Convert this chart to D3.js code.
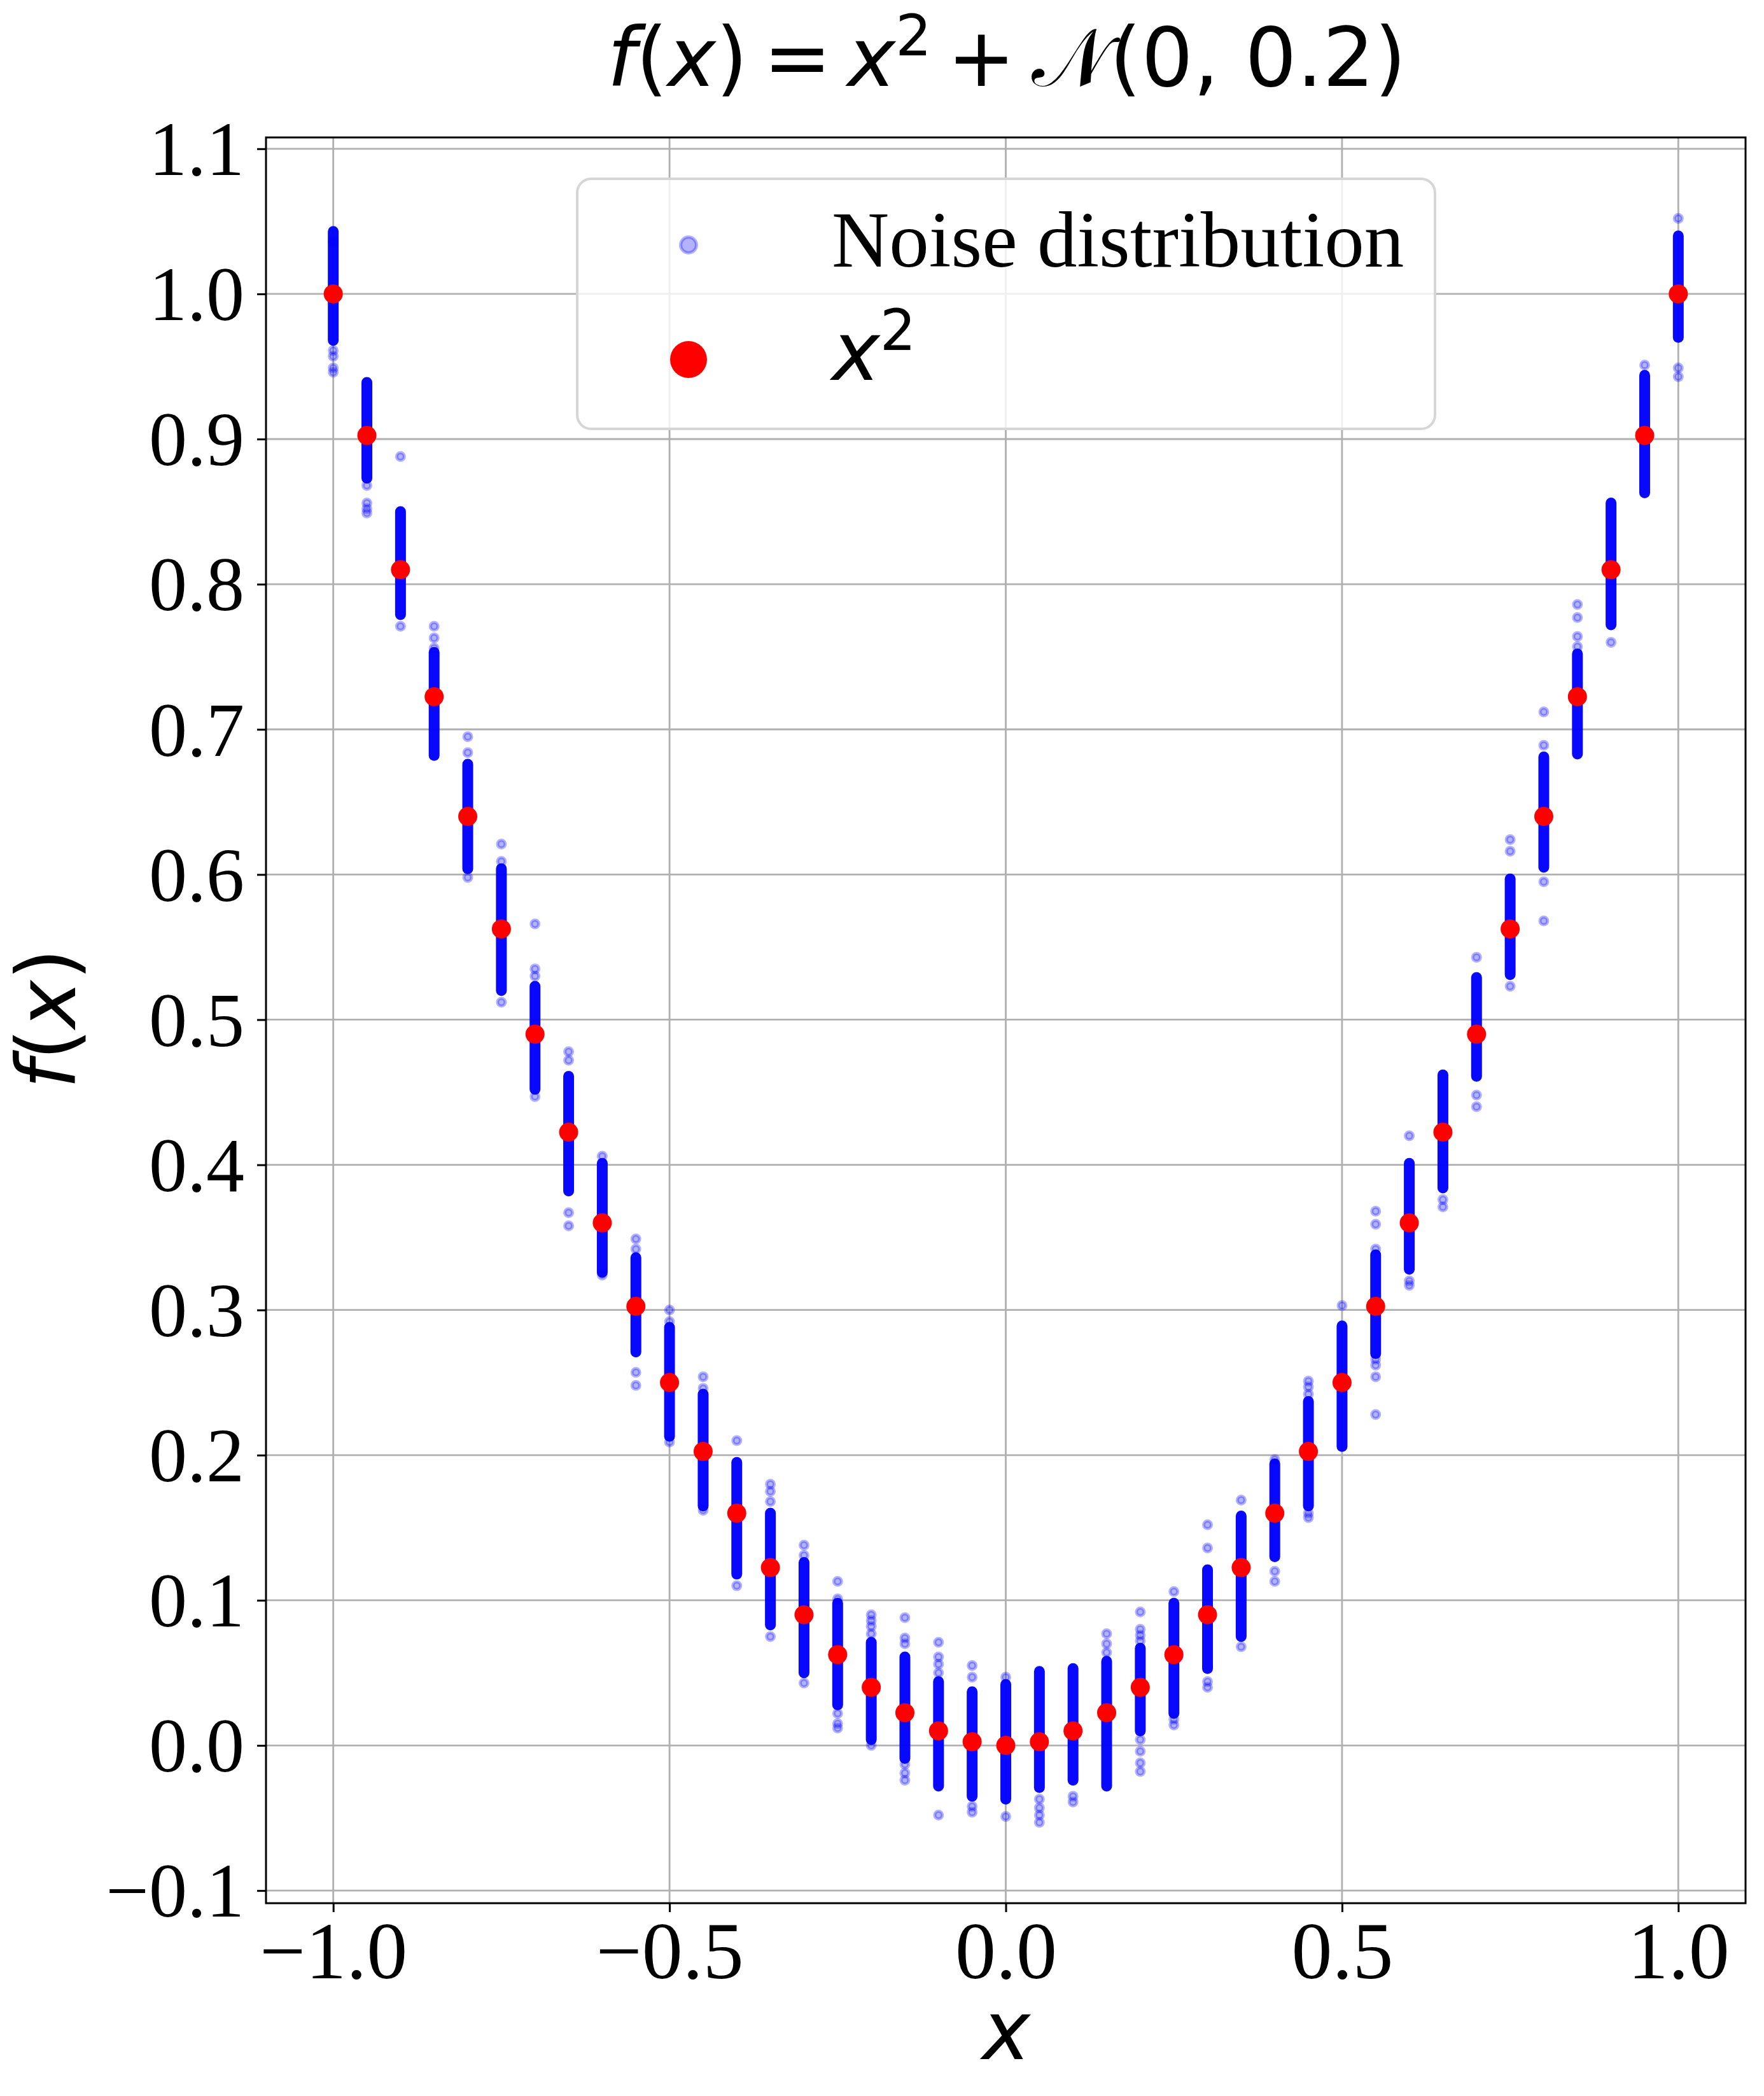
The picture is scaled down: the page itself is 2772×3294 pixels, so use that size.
<!DOCTYPE html>
<html>
<head>
<meta charset="utf-8">
<script src="https://cdn.jsdelivr.net/npm/d3@7"></script>
<style>
  body { margin: 0; background: #fff; }
</style>
</head>
<body>
<div class="chart"></div>
<script>
// x positions of the samples and the noiseless x^2 values
const xValues = [-1.0, -0.95, -0.9, -0.85, -0.8, -0.75, -0.7, -0.65, -0.6, -0.55, -0.5, -0.45, -0.4, -0.35, -0.3, -0.25, -0.2, -0.15, -0.1, -0.05, 0.0,
  0.05, 0.1, 0.15, 0.2, 0.25, 0.3, 0.35, 0.4, 0.45, 0.5, 0.55, 0.6, 0.65, 0.7, 0.75, 0.8, 0.85, 0.9, 0.95, 1.0];
const squareValues = [1.0, 0.9025, 0.81, 0.7225, 0.64, 0.5625, 0.49, 0.4225, 0.36, 0.3025, 0.25, 0.2025, 0.16, 0.1225, 0.09, 0.0625, 0.04, 0.0225, 0.01, 0.0025, 0.0,
  0.0025, 0.01, 0.0225, 0.04, 0.0625, 0.09, 0.1225, 0.16, 0.2025, 0.25, 0.3025, 0.36, 0.4225, 0.49, 0.5625, 0.64, 0.7225, 0.81, 0.9025, 1.0];

// dense part of each noise column (top and bottom of the solid blue run)
const noiseBandTop = [1.043, 0.939, 0.850, 0.753, 0.676, 0.604, 0.523, 0.461, 0.401, 0.336, 0.288, 0.242, 0.195, 0.160, 0.126, 0.098, 0.071, 0.061, 0.044, 0.037, 0.042,
  0.051, 0.053, 0.058, 0.067, 0.098, 0.121, 0.158, 0.194, 0.237, 0.289, 0.338, 0.401, 0.462, 0.529, 0.597, 0.681, 0.752, 0.856, 0.944, 1.040];
const noiseBandBottom = [0.968, 0.873, 0.779, 0.682, 0.604, 0.520, 0.452, 0.382, 0.326, 0.271, 0.213, 0.165, 0.118, 0.083, 0.050, 0.028, 0.004, -0.009, -0.028, -0.035, -0.037,
  -0.029, -0.024, -0.028, 0.010, 0.022, 0.053, 0.075, 0.130, 0.165, 0.206, 0.270, 0.328, 0.384, 0.461, 0.531, 0.605, 0.683, 0.772, 0.863, 0.970];

// single noise samples that stand apart from the dense run
const noiseOutliers = [
  [1.036, 0.961, 0.957, 0.949, 0.946],
  [0.868, 0.856, 0.852, 0.849],
  [0.888, 0.771],
  [0.771, 0.763, 0.756],
  [0.695, 0.684, 0.598],
  [0.621, 0.609, 0.512],
  [0.566, 0.535, 0.530, 0.447],
  [0.478, 0.472, 0.367, 0.358],
  [0.406, 0.324],
  [0.349, 0.342, 0.257, 0.248],
  [0.300, 0.292, 0.209],
  [0.254, 0.246, 0.162],
  [0.210, 0.110],
  [0.180, 0.175, 0.168, 0.075],
  [0.138, 0.131, 0.043],
  [0.113, 0.101, 0.022, 0.015, 0.012],
  [0.090, 0.086, 0.082, 0.077, 0.000],
  [0.088, 0.074, 0.070, -0.013, -0.019, -0.024],
  [0.071, 0.061, 0.056, 0.050, -0.048],
  [0.055, 0.047, -0.042, -0.046],
  [0.047, -0.049],
  [-0.037, -0.043, -0.048, -0.053],
  [-0.035, -0.039],
  [0.077, 0.070, 0.064],
  [0.092, 0.080, 0.076, 0.072, 0.004, -0.004, -0.012, -0.018],
  [0.106, 0.018, 0.014],
  [0.152, 0.136, 0.044, 0.040],
  [0.169, 0.068],
  [0.197, 0.120, 0.113],
  [0.251, 0.247, 0.242, 0.160, 0.157],
  [0.303],
  [0.368, 0.359, 0.342, 0.266, 0.262, 0.254, 0.228],
  [0.420, 0.320, 0.317],
  [0.376, 0.371],
  [0.543, 0.448, 0.440],
  [0.624, 0.616, 0.523],
  [0.712, 0.689, 0.595, 0.568],
  [0.786, 0.777, 0.764, 0.757],
  [0.760],
  [0.951],
  [1.052, 0.949, 0.943]
];

const xTicks = [-1.0, -0.5, 0.0, 0.5, 1.0];
const yTicks = [-0.1, 0.0, 0.1, 0.2, 0.3, 0.4, 0.5, 0.6, 0.7, 0.8, 0.9, 1.0, 1.1];
const legendLabels = ['Noise distribution', 'x2'];

const width = 2772;
const height = 3294;
const plot = { left: 418, right: 2743, top: 216, bottom: 2991 };

const serif = '"Liberation Serif", "Times New Roman", serif';
const sans = '"DejaVu Sans", sans-serif';
const fontSize = 128;

const noiseR = 6;
const noiseStroke = 5;
const redR = 15;

const svg = d3.select('.chart')
  .append('svg')
  .attr('width', width)
  .attr('height', height)
  .style('display', 'block');

svg.append('rect').attr('width', width).attr('height', height).attr('fill', '#fff');

const x = d3.scaleLinear().domain([-1.1, 1.1]).range([plot.left, plot.right]);
const y = d3.scaleLinear().domain([-0.1087, 1.1078]).range([plot.bottom, plot.top]);

// grid
const grid = svg.append('g').attr('class', 'grid');
grid.selectAll('line.gx')
  .data(xTicks)
  .enter().append('line')
  .attr('x1', d => x(d)).attr('x2', d => x(d))
  .attr('y1', plot.top).attr('y2', plot.bottom)
  .attr('stroke', '#b0b0b0')
  .attr('stroke-width', 2.8);
grid.selectAll('line.gy')
  .data(yTicks)
  .enter().append('line')
  .attr('y1', d => y(d)).attr('y2', d => y(d))
  .attr('x1', plot.left).attr('x2', plot.right)
  .attr('stroke', '#b0b0b0')
  .attr('stroke-width', 2.8);

// noise columns
const columns = xValues.map((xv, i) => ({ x: xv, top: noiseBandTop[i], bottom: noiseBandBottom[i], extra: noiseOutliers[i] }));
const outerR = noiseR + noiseStroke / 2;

const noise = svg.append('g').attr('class', 'noise');
noise.selectAll('rect')
  .data(columns)
  .enter().append('rect')
  .attr('x', d => x(d.x) - outerR)
  .attr('width', outerR * 2)
  .attr('y', d => y(d.top) - outerR)
  .attr('height', d => y(d.bottom) - y(d.top) + outerR * 2)
  .attr('rx', outerR)
  .attr('fill', '#0000ff')
  .attr('opacity', 0.97);

const loose = columns.flatMap(c => c.extra.map(v => ({ x: c.x, y: v })));
noise.selectAll('circle')
  .data(loose)
  .enter().append('circle')
  .attr('cx', d => x(d.x))
  .attr('cy', d => y(d.y))
  .attr('r', noiseR)
  .attr('fill', '#0000ff')
  .attr('fill-opacity', 0.3)
  .attr('stroke', '#0000ff')
  .attr('stroke-opacity', 0.3)
  .attr('stroke-width', noiseStroke);

// x^2 markers
svg.append('g')
  .selectAll('circle')
  .data(xValues.map((xv, i) => ({ x: xv, y: squareValues[i] })))
  .enter().append('circle')
  .attr('cx', d => x(d.x))
  .attr('cy', d => y(d.y))
  .attr('r', redR)
  .attr('fill', '#ff0000');

// axes
const xAxis = svg.append('g')
  .attr('transform', `translate(0,${plot.bottom})`)
  .call(d3.axisBottom(x).tickValues(xTicks).tickFormat(d3.format('.1f')).tickSizeOuter(0).tickSize(14).tickPadding(28));
const yAxis = svg.append('g')
  .attr('transform', `translate(${plot.left},0)`)
  .call(d3.axisLeft(y).tickValues(yTicks).tickFormat(d3.format('.1f')).tickSizeOuter(0).tickSize(14).tickPadding(20));

[xAxis, yAxis].forEach(a => {
  a.select('.domain').remove();
  a.selectAll('.tick line').attr('stroke', '#000').attr('stroke-width', 3);
  a.selectAll('.tick text')
    .attr('fill', '#000')
    .style('font-family', serif)
    .style('font-size', fontSize + 'px');
});
xAxis.selectAll('.tick text').attr('dy', null).attr('y', 118);
yAxis.selectAll('.tick text').attr('dy', '0.34em').style('font-size', '120px');

// frame
svg.append('rect')
  .attr('x', plot.left).attr('y', plot.top)
  .attr('width', plot.right - plot.left)
  .attr('height', plot.bottom - plot.top)
  .attr('fill', 'none')
  .attr('stroke', '#000')
  .attr('stroke-width', 3);

// legend
const legend = svg.append('g').attr('class', 'legend');
legend.append('rect')
  .attr('x', 907).attr('y', 281)
  .attr('width', 2255 - 907).attr('height', 674 - 281)
  .attr('rx', 22)
  .attr('fill', '#fff').attr('fill-opacity', 0.8)
  .attr('stroke', '#d6d6d6').attr('stroke-width', 4);
legend.append('circle')
  .attr('cx', 1082).attr('cy', 385).attr('r', 12.5)
  .attr('fill', '#0000ff').attr('fill-opacity', 0.3)
  .attr('stroke', '#0000ff').attr('stroke-opacity', 0.3).attr('stroke-width', 5);
legend.append('circle')
  .attr('cx', 1082).attr('cy', 565).attr('r', 29)
  .attr('fill', '#ff0000');
legend.append('text')
  .attr('x', 1307).attr('y', 419)
  .style('font-family', serif).style('font-size', '125px')
  .text(legendLabels[0]);
const sq = legend.append('text')
  .attr('x', 1307).attr('y', 597)
  .style('font-family', sans).style('font-size', fontSize + 'px');
sq.append('tspan').style('font-style', 'italic').text(legendLabels[1][0]);
sq.append('tspan').attr('dy', -47).style('font-size', '89px').text(legendLabels[1][1]);

// title (operators get tighter spacing, like mathtext)
const title = svg.append('text')
  .attr('x', 1582).attr('y', 135)
  .attr('text-anchor', 'middle')
  .style('font-family', sans).style('font-size', fontSize + 'px');
title.append('tspan').style('font-style', 'italic').text('f');
title.append('tspan').text('(');
title.append('tspan').style('font-style', 'italic').text('x');
title.append('tspan').style('word-spacing', '-16px').text(') = ');
title.append('tspan').style('font-style', 'italic').text('x');
title.append('tspan').attr('dy', -48).style('font-size', '89px').text('2');
title.append('tspan').attr('dy', 48).style('word-spacing', '-16px').text(' + ');
title.append('tspan').text('\u{1D4A9}');
title.append('tspan').text('(0, 0.2)');

// axis labels
svg.append('text')
  .attr('x', 1581).attr('y', 3236)
  .attr('text-anchor', 'middle')
  .style('font-family', sans).style('font-size', fontSize + 'px')
  .style('font-style', 'italic')
  .text('x');

const yLabel = svg.append('text')
  .attr('transform', 'translate(118,1601) rotate(-90)')
  .attr('text-anchor', 'middle')
  .style('font-family', sans).style('font-size', fontSize + 'px');
yLabel.append('tspan').style('font-style', 'italic').text('f');
yLabel.append('tspan').text('(');
yLabel.append('tspan').style('font-style', 'italic').text('x');
yLabel.append('tspan').text(')');
</script>
</body>
</html>
